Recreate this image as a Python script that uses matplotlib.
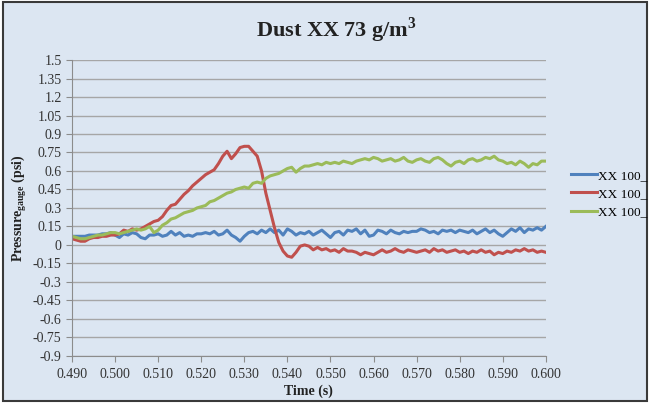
import numpy as np
import matplotlib.pyplot as plt
from matplotlib.patches import Rectangle

# time axis (s), 1 ms steps
time = np.round(np.arange(0.490, 0.6005, 0.001), 3)

# pressure gauge readings (psi)
blue = [0.07, 0.07, 0.07, 0.07, 0.08, 0.08, 0.08, 0.09, 0.09, 0.10,
        0.08, 0.06, 0.09, 0.08, 0.10, 0.09, 0.06, 0.05, 0.08, 0.08,
        0.09, 0.07, 0.08, 0.11, 0.08, 0.10, 0.07, 0.08, 0.07, 0.09,
        0.09, 0.10, 0.09, 0.11, 0.08, 0.09, 0.12, 0.08, 0.06, 0.03,
        0.07, 0.10, 0.11, 0.09, 0.12, 0.10, 0.13, 0.10, 0.12, 0.08,
        0.13, 0.11, 0.08, 0.10, 0.09, 0.11, 0.08, 0.10, 0.12, 0.09,
        0.06, 0.10, 0.11, 0.08, 0.12, 0.11, 0.13, 0.09, 0.12, 0.07,
        0.08, 0.12, 0.11, 0.09, 0.12, 0.10, 0.09, 0.11, 0.10, 0.11,
        0.11, 0.13, 0.12, 0.10, 0.11, 0.09, 0.12, 0.11, 0.12, 0.10,
        0.12, 0.11, 0.10, 0.12, 0.09, 0.11, 0.13, 0.10, 0.12, 0.09,
        0.07, 0.10, 0.13, 0.11, 0.14, 0.10, 0.13, 0.12, 0.14, 0.12,
        0.15]
red = [0.05, 0.04, 0.03, 0.03, 0.05, 0.06, 0.06, 0.07, 0.07, 0.08,
       0.08, 0.09, 0.12, 0.11, 0.13, 0.12, 0.13, 0.15, 0.17, 0.19,
       0.20, 0.23, 0.28, 0.32, 0.33, 0.37, 0.41, 0.44, 0.48, 0.51,
       0.54, 0.57, 0.59, 0.61, 0.66, 0.72, 0.76, 0.70, 0.74, 0.79,
       0.80, 0.80, 0.76, 0.72, 0.60, 0.42, 0.28, 0.14, 0.02, -0.05,
       -0.09, -0.10, -0.06, -0.01, 0.00, -0.01, -0.04, -0.02, -0.04, -0.03,
       -0.05, -0.04, -0.06, -0.03, -0.05, -0.05, -0.06, -0.08, -0.06, -0.07,
       -0.08, -0.06, -0.04, -0.06, -0.05, -0.03, -0.05, -0.06, -0.04, -0.05,
       -0.06, -0.05, -0.04, -0.06, -0.03, -0.05, -0.04, -0.06, -0.05, -0.04,
       -0.06, -0.05, -0.07, -0.05, -0.06, -0.04, -0.06, -0.05, -0.08, -0.06,
       -0.07, -0.05, -0.06, -0.04, -0.05, -0.03, -0.05, -0.04, -0.06, -0.05,
       -0.06]
green = [0.07, 0.06, 0.05, 0.05, 0.06, 0.07, 0.08, 0.08, 0.09, 0.10,
         0.10, 0.09, 0.10, 0.11, 0.12, 0.13, 0.12, 0.13, 0.15, 0.10,
         0.12, 0.16, 0.18, 0.21, 0.22, 0.24, 0.26, 0.27, 0.28, 0.30,
         0.31, 0.32, 0.35, 0.36, 0.38, 0.40, 0.42, 0.43, 0.45, 0.46,
         0.47, 0.46, 0.50, 0.51, 0.50, 0.54, 0.56, 0.57, 0.58, 0.60,
         0.62, 0.63, 0.59, 0.62, 0.64, 0.64, 0.65, 0.66, 0.65, 0.67,
         0.66, 0.67, 0.66, 0.68, 0.67, 0.66, 0.68, 0.69, 0.70, 0.69,
         0.71, 0.70, 0.68, 0.69, 0.70, 0.68, 0.69, 0.71, 0.68, 0.67,
         0.69, 0.70, 0.68, 0.67, 0.70, 0.71, 0.69, 0.66, 0.64, 0.67,
         0.68, 0.66, 0.69, 0.70, 0.68, 0.69, 0.71, 0.70, 0.72, 0.69,
         0.68, 0.66, 0.67, 0.65, 0.68, 0.66, 0.63, 0.66, 0.65, 0.68,
         0.68]
labels = ['XX 100_', 'XX 100_', 'XX 100_']
colors = ['#4f81bd', '#c0504d', '#9bbb59']

y_ticks = np.round(np.arange(-0.9, 1.51, 0.15), 2)
x_ticks = np.round(np.arange(0.49, 0.6005, 0.01), 2)

plt.rcParams['font.family'] = ['Liberation Serif', 'DejaVu Serif']

fig = plt.figure(figsize=(6.49, 4.03), dpi=100)
fig.patch.set_facecolor('white')
bg = '#dce6f2'
fig.patches.append(Rectangle((0.004, 0.006), 0.993, 0.988, transform=fig.transFigure,
                             facecolor=bg, edgecolor='#3a3a3a', linewidth=1.5, zorder=-10))

ax = fig.add_axes([0.111, 0.117, 0.730, 0.734])
ax.set_facecolor(bg)

for vals, lab, col in zip([blue, red, green], labels, colors):
    ax.plot(time, vals, color=col, linewidth=2.2, label=lab)

ax.set_xlim(0.49, 0.60)
ax.set_ylim(-0.9, 1.5)
ax.set_yticks(y_ticks)
ax.set_yticklabels([f'{v:g}' for v in y_ticks])
ax.set_xticks(x_ticks)
ax.set_xticklabels([f'{v:.3f}' for v in x_ticks])
ax.tick_params(axis='both', labelsize=10, colors='#8c8c8c', labelcolor='#333333', length=4)
ax.tick_params(axis='x', pad=5)
ax.grid(axis='y', color='#a6a6a6', linewidth=1.0)
ax.set_axisbelow(True)
for s in ['top', 'right']:
    ax.spines[s].set_visible(False)
for s in ['left', 'bottom']:
    ax.spines[s].set_color('#8c8c8c')

ax.set_xlabel('Time (s)', fontsize=10, fontweight='bold', labelpad=2, color='#222222')
ax.set_ylabel('Pressure$_{\\mathregular{gauge}}$ (psi)', fontsize=10, fontweight='bold',
              labelpad=3, color='#222222')

fig.text(0.518, 0.925, 'Dust XX 73 g/m$^{\\mathregular{3}}$', ha='center', va='center',
         fontsize=16, fontweight='bold', color='#222222')

fig.legend(loc='upper left', bbox_to_anchor=(0.871, 0.592), frameon=False,
           fontsize=9.5, handlelength=2.0, handletextpad=0.1, labelspacing=0.45,
           borderaxespad=0)

fig.savefig('out.png', dpi=100, facecolor=fig.get_facecolor())
